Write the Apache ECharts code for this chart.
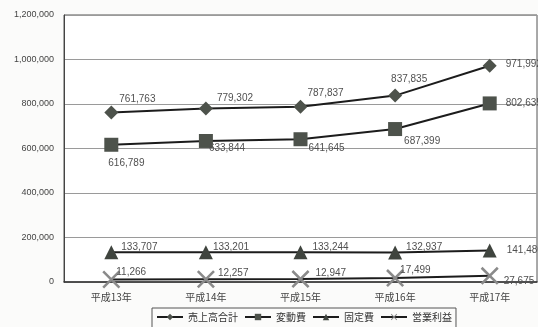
<!DOCTYPE html>
<html><head><meta charset="utf-8">
<script src="https://cdn.jsdelivr.net/npm/echarts@6/dist/echarts.min.js"></script>
<style>html,body{margin:0;padding:0;background:#fbfbfa}#c{width:538px;height:327px}</style>
</head><body><div id="c"></div>
<script>
const categories = ['平成13年','平成14年','平成15年','平成16年','平成17年'];
const seriesNames = ['売上高合計','変動費','固定費','営業利益'];
const sales = [761763, 779302, 787837, 837835, 971992];
const variableCost = [616789, 633844, 641645, 687399, 802635];
const fixedCost = [133707, 133201, 133244, 132937, 141480];
const operatingProfit = [11266, 12257, 12947, 17499, 27675];
const yTicks = [0, 200000, 400000, 600000, 800000, 1000000, 1200000];

// label placement (styling): [text-left offset from point, vertical offset]
const labelPos = [
  [[8,-13],[11,-10],[7,-13],[-4,-16],[16,-1]],
  [[-3,18],[3,7],[8,9],[9,12],[16,0]],
  [[10,-5],[7,-5],[12,-5],[11,-5],[17,0]],
  [[5,-7],[12,-6],[15,-6],[5,-8],[14,5]]
];
const symbols = ['diamond','rect','triangle','path://M0,1L1,0L10,9L9,10ZM9,0L10,1L1,10L0,9Z'];
const sizes = [14, 14, 14, 18];
const symColors = ['#4d524b','#4d524b','#3f443e','#8a8a8a'];
const values = [sales, variableCost, fixedCost, operatingProfit];

const fmt = v => v.toLocaleString('en-US');
const series = values.map((arr, si) => ({
  name: seriesNames[si],
  type: 'line',
  symbol: symbols[si],
  symbolSize: sizes[si],
  lineStyle: {color: '#1c1c1c', width: 2},
  itemStyle: {color: symColors[si]},
  data: arr.map((v, i) => ({
    value: v,
    label: {
      show: true, position: 'right', distance: 0,
      offset: [labelPos[si][i][0] - sizes[si]/2, labelPos[si][i][1]],
      formatter: p => fmt(p.value),
      fontSize: 10, color: '#505050', fontFamily: 'Liberation Sans, Arial'
    }
  }))
}));

const chart = echarts.init(document.getElementById('c'));
chart.setOption({
  backgroundColor: '#fbfbfa',
  animation: false,
  grid: {left: 64, right: 1, top: 15, bottom: 45, show: true, backgroundColor: '#ffffff', borderColor: '#555', borderWidth: 1},
  xAxis: {
    type: 'category', data: categories, boundaryGap: true,
    axisLine: {lineStyle: {color: '#333', width: 1.5}},
    axisTick: {show: false},
    axisLabel: {fontSize: 10, color: '#444', margin: 10, fontFamily: 'Noto Sans CJK JP'}
  },
  yAxis: {
    type: 'value', min: yTicks[0], max: yTicks[yTicks.length-1], interval: 200000,
    axisLine: {show: true, lineStyle: {color: '#444'}},
    axisTick: {show: false},
    splitLine: {lineStyle: {color: '#9a9a9a'}},
    axisLabel: {fontSize: 9, color: '#444', margin: 10, fontFamily: 'Liberation Sans, Arial', formatter: v => fmt(v)}
  },
  legend: {
    data: seriesNames, top: 308, left: 152,
    borderColor: '#555', borderWidth: 1, padding: [4, 4, 8, 4],
    itemWidth: 26, itemHeight: 8, itemGap: 6,
    textStyle: {fontSize: 10, color: '#333', fontFamily: 'Noto Sans CJK JP'}
  },
  series: series
});
</script></body></html>
